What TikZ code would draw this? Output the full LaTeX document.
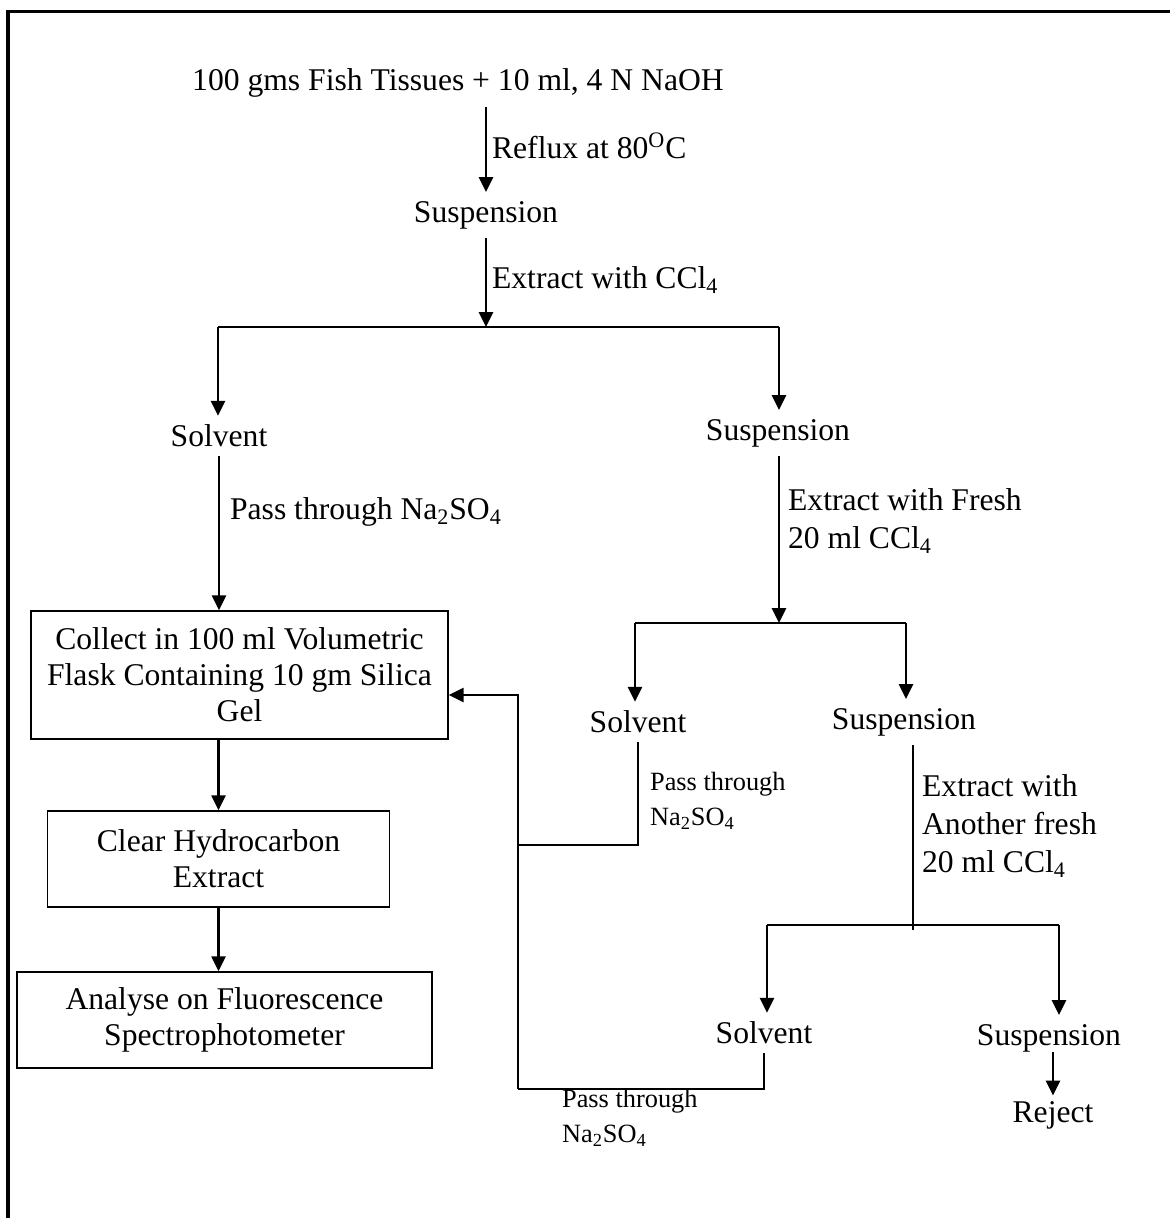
\documentclass[tikz,border=0pt]{standalone}
\usepackage{fontspec}
\setmainfont{Liberation Serif}
\usepackage{tikz}
\usetikzlibrary{arrows.meta}

\begin{document}
\begin{tikzpicture}[
    x=0.02cm, y=-0.02cm,
    txt/.style={inner sep=5pt, font=\fontsize{18}{21}\selectfont},
    lbl/.style={inner sep=1pt, anchor=west, align=left, font=\fontsize{18}{21.5}\selectfont},
    small/.style={lbl, font=\fontsize{15}{20}\selectfont},
    box/.style={draw, line width=0.9pt, align=center, minimum height=1.92cm, font=\fontsize{18}{20.5}\selectfont},
    conn/.style={line width=1.3pt},
    arrow/.style={conn, -{Triangle[length=8.5pt, width=8pt]}},
    frame/.style={line width=1.8pt}
]
    \useasboundingbox (0,0) rectangle (1170,1218);
    \draw[frame] (1170,11.5) -- (8,11.5) -- (8,1218);

    % main column
    \node[txt] (feed) at (458,83) {100 gms Fish Tissues + 10 ml, 4 N NaOH};
    \node[txt] (susp1) at (486,215) {Suspension};
    \node[lbl] (reflux) at (490,146) {Reflux at 80\textsuperscript{O}C};
    \node[lbl] (ext1) at (490,280) {Extract with CCl\textsubscript{4}};

    \coordinate (br1) at (486,327);
    \coordinate (br1l) at (218,327);
    \coordinate (br1r) at (779,327);

    % left branch
    \node[txt] (solv1) at (219,436) {Solvent};
    \node[lbl] (pass1) at (228,512) {Pass through Na\textsubscript{2}SO\textsubscript{4}};
    \node[box, minimum width=8.34cm, minimum height=2.56cm] (collect) at (239.5,675)
        {Collect in 100 ml Volumetric\\Flask Containing 10 gm Silica\\Gel};
    \node[box, minimum width=6.84cm] (clear) at (218.5,859) {Clear Hydrocarbon\\Extract};
    \node[box, minimum width=8.3cm] (analyse) at (224.5,1020) {Analyse on Fluorescence\\Spectrophotometer};

    % right branch
    \node[txt] (susp2) at (778,433) {Suspension};
    \node[lbl] (ext2) at (786,521) {Extract with Fresh\\20 ml CCl\textsubscript{4}};
    \coordinate (br2) at (779,623);
    \coordinate (br2l) at (635,623);
    \coordinate (br2r) at (906,623);
    \node[txt] (solv2) at (638,722) {Solvent};
    \node[txt] (susp3) at (904,722) {Suspension};
    \node[small] (pass2) at (648,801) {Pass through\\Na\textsubscript{2}SO\textsubscript{4}};
    \node[lbl] (ext3) at (920,826) {Extract with\\Another fresh\\20 ml CCl\textsubscript{4}};

    \coordinate (br3) at (913,930);
    \coordinate (br3l) at (767,925);
    \coordinate (br3r) at (1059,925);
    \node[txt] (solv3) at (764,1033) {Solvent};
    \node[txt] (susp4) at (1049,1038) {Suspension};
    \node[txt] (reject) at (1053,1115) {Reject};
    \node[small] (pass3) at (560,1118) {Pass through\\Na\textsubscript{2}SO\textsubscript{4}};

    % return line
    \coordinate (ret0) at (518,695);
    \coordinate (ret1) at (518,845);
    \coordinate (ret2) at (518,1089);

    \draw[arrow] (feed.south -| susp1) -- (susp1.north);
    \draw[arrow] (susp1.south) -- (br1);
    \draw[conn] (br1l) -- (br1r);
    \draw[arrow] (br1l) -- (br1l |- solv1.north);
    \draw[arrow] (br1r) -- (br1r |- susp2.north);

    \draw[arrow] (solv1.south) -- (solv1 |- collect.north);
    \draw[arrow] (clear |- collect.south) -- (clear.north);
    \draw[arrow] (clear.south) -- (clear |- analyse.north);

    \draw[arrow] (br2 |- susp2.south) -- (br2);
    \draw[conn] (br2l) -- (br2r);
    \draw[arrow] (br2l) -- (br2l |- solv2.north);
    \draw[arrow] (br2r) -- (br2r |- susp3.north);

    \draw[conn] (br3 |- susp3.south) -- (br3);
    \draw[conn] (br3l) -- (br3r);
    \draw[arrow] (br3l) -- (br3l |- solv3.north);
    \draw[arrow] (br3r) -- (br3r |- susp4.north);
    \draw[arrow] ([yshift=5pt]reject |- susp4.south) -- ([yshift=-2pt]reject.north);

    \draw[conn] (solv2.south) |- (ret1);
    \draw[conn] (solv3.south) |- (ret2);
    \draw[arrow] (ret2) -- (ret0) -- (ret0 -| collect.east);
\end{tikzpicture}
\end{document}
